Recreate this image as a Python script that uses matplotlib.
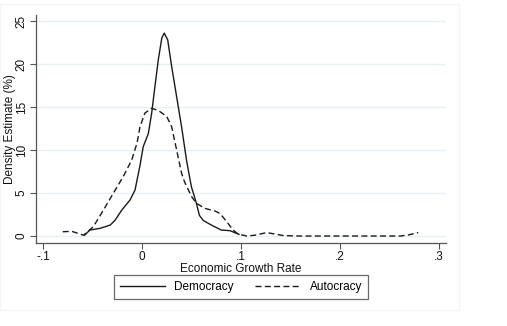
import matplotlib
matplotlib.use("Agg")
import matplotlib.pyplot as plt
from matplotlib.patches import Rectangle

plt.rcParams['font.family'] = ['Liberation Sans', 'DejaVu Sans']
plt.rcParams['lines.scale_dashes'] = False

# Democracy (solid) density estimate
dem_x = [-0.058, -0.0525, -0.042, -0.032, -0.027, -0.0205, -0.012, -0.007, -0.002, 0.0013,
         0.0064, 0.0098, 0.0131, 0.0165, 0.020, 0.0225, 0.026, 0.030, 0.035, 0.040,
         0.045, 0.048, 0.050, 0.055, 0.058, 0.062, 0.070, 0.080, 0.089, 0.094, 0.098]
dem_y = [0.1, 0.7, 0.9, 1.28, 1.86, 3.0, 4.2, 5.35, 8.2, 10.4,
         11.9, 14.3, 17.4, 20.5, 23.0, 23.6, 22.8, 19.7, 16.2, 12.7,
         8.8, 6.9, 5.7, 3.8, 2.4, 1.8, 1.28, 0.7, 0.62, 0.38, 0.2]

# Autocracy (dashed) density estimate
aut_x = [-0.080, -0.071, -0.059, -0.049, -0.039, -0.029, -0.019, -0.0105, -0.005, -0.002,
         0.003, 0.0098, 0.0165, 0.025, 0.030, 0.035, 0.040, 0.043, 0.050, 0.055,
         0.064, 0.074, 0.079, 0.0855, 0.092, 0.097, 0.106, 0.114, 0.126, 0.143,
         0.160, 0.200, 0.240, 0.261, 0.270, 0.279]
aut_y = [0.5, 0.55, 0.1, 1.1, 3.0, 4.96, 6.9, 8.8, 10.8, 12.7,
         14.3, 14.85, 14.6, 13.9, 12.7, 10.0, 7.3, 6.3, 4.6, 3.8,
         3.2, 2.9, 2.6, 1.67, 0.7, 0.23, 0.0, 0.1, 0.4, 0.05,
         0.0, 0.0, 0.0, 0.0, 0.15, 0.4]

x_ticks = [-0.1, 0.0, 0.1, 0.2, 0.3]
x_tick_labels = ['-.1', '0', '.1', '.2', '.3']
y_ticks = [0, 5, 10, 15, 20, 25]
y_tick_labels = ['0', '5', '10', '15', '20', '25']

fig = plt.figure(figsize=(5.07, 3.26), dpi=100)
fig.patch.set_facecolor('white')
# faint outer graph-region border
fig.add_artist(Rectangle((0.0, (326 - 310) / 326), 459 / 507, (310 - 4) / 326,
                         transform=fig.transFigure, fill=False,
                         edgecolor='#f4f5f5', linewidth=1.0))

ax = fig.add_axes([36 / 507, (326 - 243) / 326, (446 - 36) / 507, (243 - 15) / 326])
ax.set_facecolor('white')

line_col = '#1a1a1a'
ax.plot(dem_x, dem_y, color=line_col, linewidth=1.0, label='Democracy')
ax.plot(aut_x, aut_y, color=line_col, linewidth=1.0, linestyle=(0, (4.3, 2.4)),
        label='Autocracy')

ax.set_xlim(-0.107, 0.307)
ax.set_ylim(-0.81, 25.7)

ax.set_xticks(x_ticks)
ax.set_xticklabels(x_tick_labels)
ax.set_yticks(y_ticks)
ax.set_yticklabels(y_tick_labels, rotation=90, va='center')

for y in y_ticks:
    ax.axhline(y, color='#e6eff1', linewidth=1.0, zorder=0)

for s in ['top', 'right']:
    ax.spines[s].set_visible(False)
for s in ['left', 'bottom']:
    ax.spines[s].set_color('#555555')
    ax.spines[s].set_linewidth(0.9)

ax.tick_params(axis='both', direction='out', length=4, width=0.8, color='#555555',
               labelsize=8.5, labelcolor='#111111', pad=2)

ax.set_xlabel('Economic Growth Rate', fontsize=8.5, color='#111111', labelpad=0)
ax.set_ylabel('Density Estimate (%)', fontsize=8.5, color='#111111')
ax.yaxis.set_label_coords(-20 / 410, 0.5)

leg = fig.legend(loc='center', bbox_to_anchor=(241 / 507, (326 - 287) / 326), ncol=2,
                 frameon=True, fancybox=False, fontsize=8.5, handlelength=3.8,
                 columnspacing=1.8, handletextpad=0.8, borderpad=0.5)
leg.get_frame().set_edgecolor('#444444')
leg.get_frame().set_linewidth(0.9)

fig.savefig('out.png', dpi=100, facecolor='white')
